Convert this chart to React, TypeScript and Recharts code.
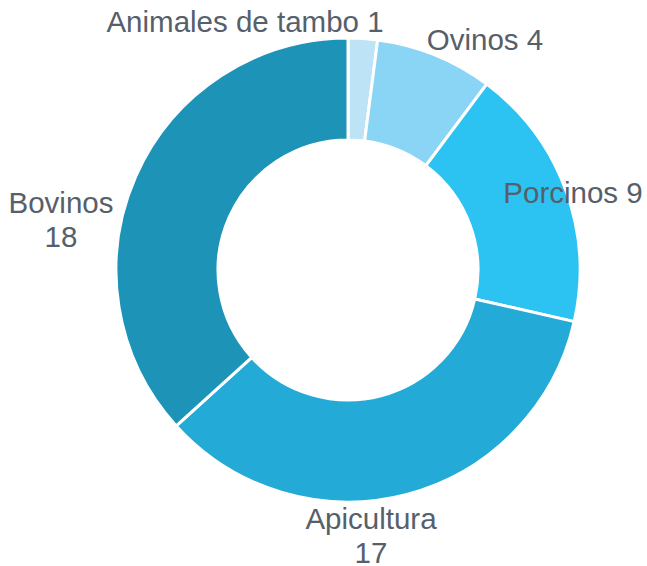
import React from "react";
import { PieChart, Pie, Cell } from "recharts";

const categories = ["Animales de tambo", "Ovinos", "Porcinos", "Apicultura", "Bovinos"];
const values = [1, 4, 9, 17, 18];
const colors = ["#bde3f7", "#8ad4f5", "#2cc3f3", "#23aad6", "#1e93b8"];

// label layout: offset of text anchor from pie center (baseline of first line), and whether split into two lines
const labelLayout = [
  { dx: -103, dy: -238, twoLines: false },
  { dx: 137, dy: -220, twoLines: false },
  { dx: 225, dy: -67, twoLines: false },
  { dx: 23, dy: 259, twoLines: true },
  { dx: -287, dy: -57, twoLines: true },
];

const data = categories.map((name, i) => ({ name, value: values[i] }));

const TEXT_COLOR = "#56606a";
const FONT = "'Liberation Sans', Arial, sans-serif";

const renderLabel = (props: any) => {
  const { cx, cy, index } = props;
  const l = labelLayout[index];
  const x = cx + l.dx;
  const y = cy + l.dy;
  if (l.twoLines) {
    return (
      <text x={x} y={y} textAnchor="middle" fill={TEXT_COLOR} fontSize={29.5} fontFamily={FONT}>
        <tspan x={x} dy={0}>{categories[index]}</tspan>
        <tspan x={x} dy={34}>{values[index]}</tspan>
      </text>
    );
  }
  return (
    <text x={x} y={y} textAnchor="middle" fill={TEXT_COLOR} fontSize={29.5} fontFamily={FONT}>
      {`${categories[index]} ${values[index]}`}
    </text>
  );
};

export default function App() {
  return (
    <div style={{ position: "absolute", left: 0, top: 0, width: 647, height: 566, background: "#fff" }}>
      <PieChart width={647} height={566} margin={{ top: 0, right: 0, bottom: 0, left: 0 }}>
        <Pie
          data={data}
          dataKey="value"
          nameKey="name"
          cx={348}
          cy={270}
          innerRadius={130}
          outerRadius={232}
          startAngle={90}
          endAngle={-270}
          stroke="#ffffff"
          strokeWidth={3}
          label={renderLabel}
          labelLine={false}
          isAnimationActive={false}
        >
          {data.map((d, i) => (
            <Cell key={d.name} fill={colors[i]} />
          ))}
        </Pie>
      </PieChart>
    </div>
  );
}
